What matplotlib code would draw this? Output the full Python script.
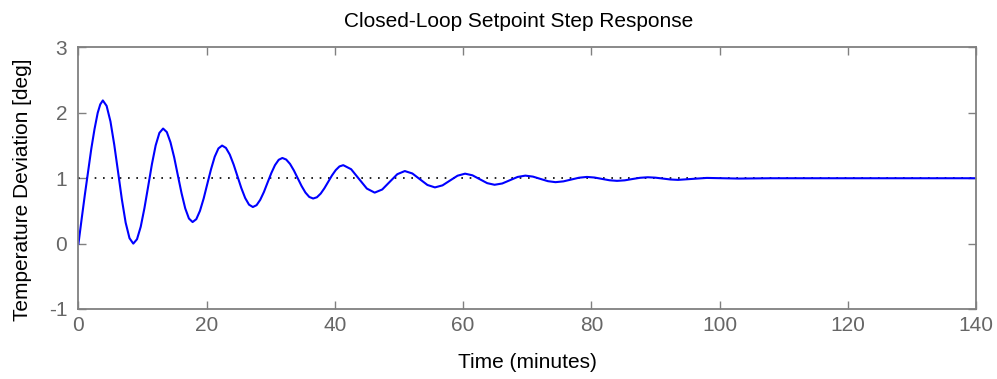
import matplotlib
matplotlib.use("Agg")
import matplotlib.pyplot as plt

# 读图得到的数据 (time in minutes, deviation in deg)
time_min = [
    0.0, 0.5, 1.0, 1.5, 2.0, 2.5, 3.0, 3.4,
    3.8, 4.39, 4.99, 5.58, 6.18, 6.77, 7.36, 7.96,
    8.55, 9.13, 9.71, 10.29, 10.88, 11.46, 12.04, 12.62,
    13.2, 13.78, 14.35, 14.93, 15.5, 16.08, 16.65, 17.23,
    17.8, 18.38, 18.95, 19.53, 20.1, 20.68, 21.25, 21.83,
    22.4, 23.0, 23.6, 24.2, 24.8, 25.4, 26.0, 26.6,
    27.2, 27.78, 28.35, 28.93, 29.5, 30.08, 30.65, 31.23,
    31.8, 32.4, 33.0, 33.6, 34.2, 34.8, 35.4, 36.0,
    36.6, 37.19, 37.78, 38.36, 38.95, 39.54, 40.13, 40.71,
    41.3, 42.53, 43.75, 44.98,
    46.2, 47.38, 48.55, 49.73,
    50.9, 52.08, 53.25, 54.43,
    55.6, 56.78, 57.95, 59.13,
    60.3, 61.45, 62.6, 63.75,
    64.9, 66.1, 67.3, 68.5,
    69.7, 70.88, 72.05, 73.23,
    74.4, 75.63, 76.85, 78.08,
    79.3, 80.48, 81.65, 82.83,
    84.0, 85.2, 86.4, 87.6,
    88.8, 89.98, 91.15, 92.33,
    93.5, 98.0, 103.0, 108.0, 140.0,
]
temp_dev = [
    0.0, 0.38, 0.75, 1.1, 1.45, 1.75, 2.0, 2.13,
    2.19, 2.107, 1.869, 1.514, 1.095, 0.676, 0.321, 0.083,
    0.0, 0.067, 0.258, 0.543, 0.88, 1.217, 1.502, 1.693,
    1.76, 1.706, 1.55, 1.319, 1.045, 0.771, 0.54, 0.384,
    0.33, 0.374, 0.501, 0.691, 0.915, 1.139, 1.329, 1.456,
    1.5, 1.464, 1.362, 1.21, 1.03, 0.85, 0.698, 0.596,
    0.56, 0.588, 0.67, 0.791, 0.935, 1.079, 1.2, 1.282,
    1.31, 1.286, 1.219, 1.119, 1.0, 0.881, 0.781, 0.714,
    0.69, 0.709, 0.765, 0.847, 0.945, 1.043, 1.125, 1.181,
    1.2, 1.138, 0.99, 0.842,
    0.78, 0.828, 0.945, 1.062,
    1.11, 1.073, 0.985, 0.897,
    0.86, 0.891, 0.965, 1.039,
    1.07, 1.045, 0.985, 0.925,
    0.90, 0.92, 0.97, 1.02,
    1.04, 1.025, 0.99, 0.955,
    0.94, 0.952, 0.98, 1.008,
    1.02, 1.011, 0.99, 0.969,
    0.96, 0.968, 0.988, 1.007,
    1.015, 1.009, 0.995, 0.981,
    0.975, 1.005, 0.995, 1.0, 1.0,
]
setpoint_t = [0, 140]
setpoint = [1, 1]

x_ticks = [0, 20, 40, 60, 80, 100, 120, 140]
y_ticks = [-1, 0, 1, 2, 3]

plt.rcParams['font.family'] = ['Liberation Sans', 'DejaVu Sans']
plt.rcParams['axes.unicode_minus'] = False

fig = plt.figure(figsize=(9.97, 3.79), dpi=100)
ax = fig.add_axes([0.0787, 0.1847, 0.9003, 0.690])

ax.plot(setpoint_t, setpoint, color='k', linestyle=(0, (1, 4)), linewidth=1.2)
ax.plot(time_min, temp_dev, color='#0000ff', linewidth=1.5)

ax.set_xlim(0, 140)
ax.set_ylim(-1, 3)
ax.set_xticks(x_ticks)
ax.set_yticks(y_ticks)

# MATLAB 风格的坐标轴
for s in ax.spines.values():
    s.set_color('#808080')
    s.set_linewidth(1.3)
ax.tick_params(direction='in', length=6, width=1, color='#808080',
               top=True, right=True, labelcolor='#666666', labelsize=15)
ax.tick_params(axis='y', pad=8)
ax.tick_params(axis='x', pad=5)

ax.set_title('Closed-Loop Setpoint Step Response', fontsize=15, x=0.49, pad=15)
ax.set_xlabel('Time (minutes)', fontsize=15, labelpad=13)
ax.set_ylabel('Temperature Deviation [deg]', fontsize=15)
ax.yaxis.set_label_coords(-0.052, 0.455)

fig.savefig('out.png', dpi=100)
